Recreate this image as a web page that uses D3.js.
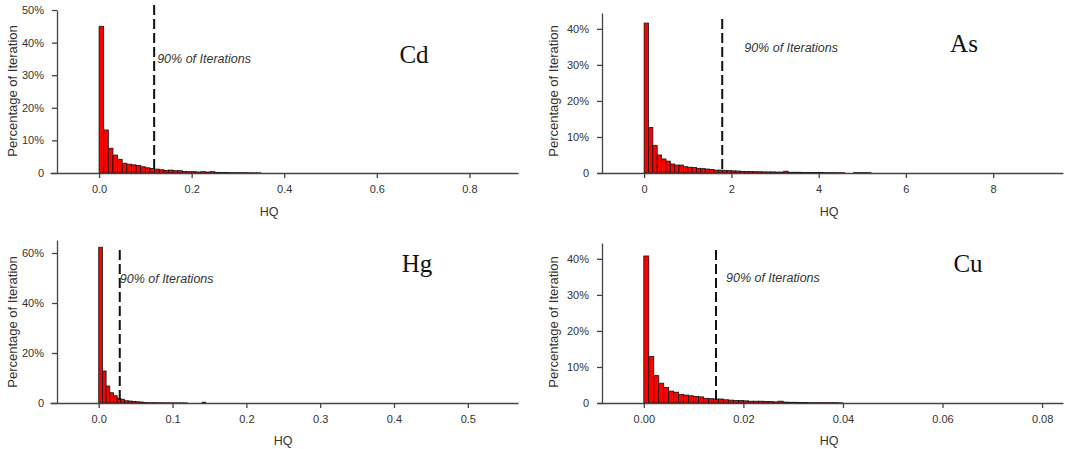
<!DOCTYPE html>
<html>
<head>
<meta charset="utf-8">
<script src="https://cdn.jsdelivr.net/npm/d3@7"></script>
<style>
  body { margin: 0; background: #fff; }
  svg { display: block; }
  text { font-family: "Liberation Sans", Arial, sans-serif; fill: #333; }
</style>
</head>
<body>
<svg id="chart" width="1065" height="449"></svg>
<script>
// histogram percentages, one value per bin, starting at HQ = 0
const cdBins = [45, 13.2, 7.6, 5.5, 4.2, 3.0, 2.7, 2.5, 2.3, 1.9, 1.6, 1.4, 1.2, 1.0, 0.8, 0.9, 0.7, 0.7, 0.5, 0.4,
  0.4, 0.3, 0.4, 0.3, 0.4, 0.2, 0.15, 0.15, 0.12, 0.1, 0.1, 0.1, 0.08, 0.06, 0.05];
const asBins = [41.6, 12.6, 7.6, 5.0, 3.9, 3.3, 2.5, 2.2, 2.2, 1.75, 1.6, 1.5, 1.3, 1.2, 1.1, 1.0, 0.8, 0.8, 0.75, 0.65,
  0.6, 0.55, 0.45, 0.4, 0.4, 0.35, 0.35, 0.3, 0.3, 0.3, 0.25, 0.25, 0.5, 0.2, 0.2, 0.2, 0.15, 0.15, 0.15, 0.12,
  0.12, 0.1, 0.1, 0.1, 0.08, 0.08, 0, 0, 0.1, 0.1, 0.1, 0.1];
const hgBins = [62.3, 12.8, 6.8, 4.1, 2.9, 1.9, 1.5, 0.9, 0.8, 0.6, 0.5, 0.4, 0.2, 0.15, 0.15, 0.12, 0.1, 0.1, 0.08, 0.08,
  0.06, 0.06, 0.05, 0.05, 0, 0, 0, 0, 0.3];
const cuBins = [40.8, 12.9, 7.6, 5.5, 4.3, 3.3, 3.0, 2.4, 2.2, 2.0, 1.8, 1.7, 1.3, 1.2, 1.1, 1.1, 0.9, 0.8, 0.7, 0.7,
  0.6, 0.5, 0.5, 0.5, 0.45, 0.4, 0.3, 0.5, 0.25, 0.2, 0.2, 0.15, 0.15, 0.1, 0.1, 0.1, 0.1, 0.1, 0.1, 0.05];

const binWidths = { Cd: 0.01, As: 0.1, Hg: 0.005, Cu: 0.001 };
const p90 = { Cd: 0.119, As: 1.79, Hg: 0.0285, Cu: 0.0145 };

const cdXTicks = [0, 0.2, 0.4, 0.6, 0.8];
const asXTicks = [0, 2, 4, 6, 8];
const hgXTicks = [0, 0.1, 0.2, 0.3, 0.4, 0.5];
const cuXTicks = [0, 0.02, 0.04, 0.06, 0.08];

const cdYTicks = [0, 10, 20, 30, 40, 50];
const asYTicks = [0, 10, 20, 30, 40];
const hgYTicks = [0, 20, 40, 60];
const cuYTicks = [0, 10, 20, 30, 40];

// layout of the four panels (pixels)
const panels = [
  { name: "Cd", bins: cdBins, xTicks: cdXTicks, yTicks: cdYTicks, fmt: ".1f",
    xDom: [-0.106, 0.905], yMax: 50, left: 50, right: 518, base: 173, top: 10, axisX: 57,
    dashTop: 5, noteDx: 3, noteY: 63, labelX: 414, labelY: 63, hqX: 269, hqY: 216, ylabX: 12, ylabY: 91 },
  { name: "As", bins: asBins, xTicks: asXTicks, yTicks: asYTicks, fmt: "d",
    xDom: [-1.08, 9.6], yMax: 44.4, left: 597, right: 1063, base: 173, top: 13, axisX: 602,
    dashTop: 19, noteDx: 22, noteY: 52, labelX: 964, labelY: 52, hqX: 829, hqY: 216, ylabX: 553, ylabY: 91 },
  { name: "Hg", bins: hgBins, xTicks: hgXTicks, yTicks: hgYTicks, fmt: ".1f",
    xDom: [-0.066, 0.568], yMax: 65.2, left: 50, right: 518, base: 403, top: 240, axisX: 57,
    dashTop: 250, noteDx: 0, noteY: 283, labelX: 417, labelY: 272, hqX: 283, hqY: 445, ylabX: 12, ylabY: 322 },
  { name: "Cu", bins: cuBins, xTicks: cuXTicks, yTicks: cuYTicks, fmt: ".2f",
    xDom: [-0.0094, 0.0842], yMax: 44.4, left: 597, right: 1063, base: 403, top: 243, axisX: 602,
    dashTop: 250, noteDx: 10, noteY: 282, labelX: 968, labelY: 272, hqX: 829, hqY: 445, ylabX: 553, ylabY: 322 }
];

const svg = d3.select("#chart");

panels.forEach((p) => {
  const bw = binWidths[p.name];
  const g = svg.append("g");

  // x scale placed so that xDom spans the full axis line
  const x = d3.scaleLinear().domain(p.xDom).range([p.left, p.right]);
  const y = d3.scaleLinear().domain([0, p.yMax]).range([p.base, p.top]);

  // bars
  g.selectAll("rect")
    .data(p.bins.map((v, i) => ({ x0: i * bw, x1: (i + 1) * bw, v })).filter((d) => d.v > 0))
    .join("rect")
    .attr("x", (d) => x(d.x0))
    .attr("width", (d) => x(d.x1) - x(d.x0))
    .attr("y", (d) => y(d.v))
    .attr("height", (d) => y(0) - y(d.v))
    .attr("fill", "#ff0000")
    .attr("stroke", "#111")
    .attr("stroke-width", 0.8);

  // x axis
  const xAxis = g.append("g")
    .attr("transform", `translate(0,${p.base})`)
    .call(d3.axisBottom(x).tickValues(p.xTicks).tickFormat(d3.format(p.fmt)).tickSize(5).tickSizeOuter(0));
  xAxis.select(".domain").attr("stroke", "#444").attr("stroke-width", 1.3);
  xAxis.selectAll(".tick line").attr("stroke", "#444").attr("stroke-width", 1.3);
  xAxis.selectAll(".tick text")
    .attr("y", 12)
    .attr("fill", "#333")
    .style("font-size", "11px")
    .style("font-family", "'Liberation Sans', Arial, sans-serif");

  // y axis
  const yAxis = g.append("g")
    .attr("transform", `translate(${p.axisX},0)`)
    .call(d3.axisLeft(y).tickValues(p.yTicks)
      .tickFormat((d) => (d === 0 ? "0" : d + "%")).tickSize(5).tickSizeOuter(0));
  yAxis.select(".domain").attr("stroke", "#444").attr("stroke-width", 1.3);
  yAxis.selectAll(".tick line").attr("stroke", "#444").attr("stroke-width", 1.3);
  yAxis.selectAll(".tick text")
    .attr("x", -13)
    .attr("fill", "#333")
    .style("font-size", "11px")
    .style("font-family", "'Liberation Sans', Arial, sans-serif");

  // y label
  g.append("text")
    .attr("transform", `translate(${p.ylabX},${p.ylabY}) rotate(-90)`)
    .attr("text-anchor", "middle")
    .attr("dy", "0.35em")
    .style("font-size", "13px")
    .text("Percentage of Iteration");

  // x label
  g.append("text")
    .attr("x", p.hqX)
    .attr("y", p.hqY)
    .attr("text-anchor", "middle")
    .style("font-size", "12.5px")
    .text("HQ");

  // 90th percentile line
  g.append("line")
    .attr("x1", x(p90[p.name]))
    .attr("x2", x(p90[p.name]))
    .attr("y1", p.dashTop)
    .attr("y2", p.base)
    .attr("stroke", "#111")
    .attr("stroke-width", 2)
    .attr("stroke-dasharray", "10,4");

  g.append("text")
    .attr("x", x(p90[p.name]) + p.noteDx)
    .attr("y", p.noteY)
    .style("font-size", "12.5px")
    .style("font-style", "italic")
    .text("90% of Iterations");

  // metal name
  g.append("text")
    .attr("x", p.labelX)
    .attr("y", p.labelY)
    .attr("text-anchor", "middle")
    .style("font-family", "'Liberation Serif', 'Times New Roman', serif")
    .style("font-size", "25px")
    .style("fill", "#111")
    .text(p.name);
});
</script>
</body>
</html>
